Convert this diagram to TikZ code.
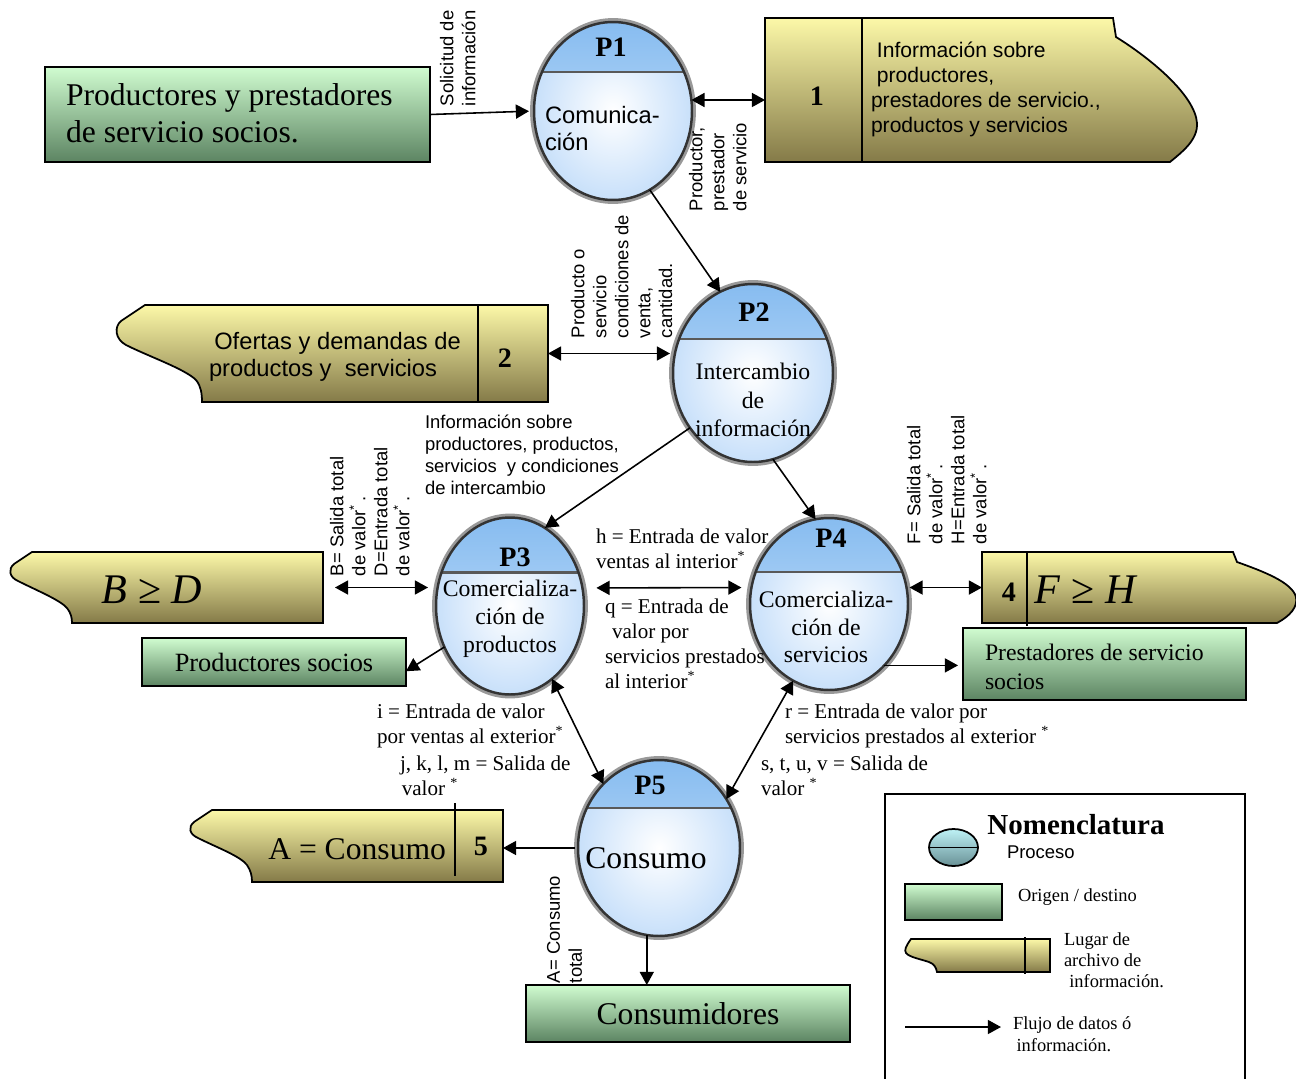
\documentclass[tikz,border=0pt]{standalone}
\usepackage{fontspec}
\setmainfont{Liberation Serif}
\newfontfamily\sansf{Liberation Sans}
\usetikzlibrary{shapes.geometric,arrows.meta,calc}

\definecolor{gtop}{RGB}{208,252,208}
\definecolor{gmid}{RGB}{165,212,168}
\definecolor{gbot}{RGB}{92,132,98}
\definecolor{ytop}{RGB}{252,248,168}
\definecolor{ymid}{RGB}{228,222,130}
\definecolor{ybot}{RGB}{132,122,72}
\definecolor{captop}{RGB}{135,188,240}
\definecolor{capbot}{RGB}{205,228,250}
\definecolor{bodyout}{RGB}{200,224,250}
\definecolor{ltop}{RGB}{190,242,246}
\definecolor{lbot}{RGB}{105,145,150}

\newcommand\fsz[2]{\fontsize{#1}{#2}\selectfont}

\begin{document}
\begin{tikzpicture}[x=0.02cm,y=-0.02cm,
  every node/.style={inner sep=0pt,outer sep=0pt},
  proc/.style={ellipse, inner color=white, outer color=bodyout,
    draw=black!80, line width=1.4pt,
    preaction={draw=black!40, line width=4.5pt},
    path picture={
      \fill[top color=captop, bottom color=capbot]
        (path picture bounding box.north west) rectangle
        ([yshift=-#1]path picture bounding box.north east);
      \draw[black!65, line width=1.3pt]
        ([yshift=-#1]path picture bounding box.north west) --
        ([yshift=-#1]path picture bounding box.north east);}},
  ptitle/.style={font=\bfseries\fsz{16}{18}},
  pbody/.style={font=\fsz{13.5}{15.8}, align=center},
  gbox/.style={draw, line width=1pt, top color=gtop, middle color=gmid, bottom color=gbot},
  store/.style={draw, line width=1pt, top color=ytop, middle color=ymid, bottom color=ybot},
  divider/.style={line width=1pt},
  num/.style={font=\bfseries\fsz{16}{18}},
  lab/.style={font=\sansf\fsz{10.5}{12.5}, align=left},
  rlab/.style={lab, rotate=90, anchor=north west},
  slab/.style={font=\fsz{12}{14.2}, align=left, anchor=north west},
  arr/.style={-{Triangle[length=7.5pt,width=8pt]}, line width=0.9pt},
  dbl/.style={{Triangle[length=7.5pt,width=8pt]}-{Triangle[length=7.5pt,width=8pt]}, line width=0.9pt}]
\useasboundingbox (0,0) rectangle (1296,1079);

% ---------- origin / destination boxes ----------
\node[gbox, minimum width=7.7cm, minimum height=1.9cm] (g1) at (237.5,114.5) {};
\node[font=\fsz{18}{21}, align=left, anchor=north west] (g1t) at (66,84)
  {Productores y prestadores\\de servicio socios.};
\node[gbox, minimum width=5.28cm, minimum height=0.96cm, font=\fsz{15}{17}] (ps) at (274,662) {Productores socios};
\node[gbox, minimum width=5.66cm, minimum height=1.44cm] (pr) at (1104.5,664) {};
\node[font=\fsz{13.5}{16.4}, align=left, anchor=north west] (prt) at (985,644)
  {Prestadores de servicio\\socios};
\node[gbox, minimum width=6.48cm, minimum height=1.14cm, font=\fsz{18}{21}] (cons) at (688,1013.5) {Consumidores};

% ---------- information stores ----------
% store 1
\path[store] (765,18) -- (1113,18) -- (1116,37)
  .. controls (1150,58) and (1195,95) .. (1197,123)
  .. controls (1198,140) and (1182,152) .. (1170,162) -- (765,162) -- cycle;
\draw[divider] (862,18) -- (862,162);
\node[minimum width=8.66cm, minimum height=2.88cm] (s1) at (981.5,90) {};
\node[num] (s1n) at (817,96) {1};
\node[font=\sansf\fsz{12}{14.2}, align=left, anchor=north west] (s1t) at (871,42)
  {\hspace{3.4pt}Información sobre\\\hspace{3.4pt}productores,\\prestadores de servicio.,\\productos y servicios};

% store 2
\path[store] (548,305) -- (145,305) -- (121,321)
  .. controls (114,327) and (115,339) .. (126,345)
  .. controls (150,357) and (185,369) .. (196,380)
  .. controls (201,386) and (202,394) .. (202,402) -- (548,402) -- cycle;
\draw[divider] (478,305) -- (478,402);
\node[minimum width=8.64cm, minimum height=1.94cm] (s2) at (332,353.5) {};
\node[num] (s2n) at (505,358) {2};
\node[font=\sansf\fsz{13.5}{15.3}, align=left, anchor=north west] (s2t) at (209,332)
  {\hspace{3pt}Ofertas y demandas de\\productos y\ \ servicios};

% store B >= D
\path[store] (323,552) -- (32,552) -- (14,564)
  .. controls (8,569) and (9,577) .. (18,581)
  .. controls (38,591) and (60,600) .. (67,608)
  .. controls (71,613) and (72,618) .. (72,623) -- (323,623) -- cycle;
\node[minimum width=6.26cm, minimum height=1.42cm] (sB) at (166.5,587.5) {};
\node[font=\fsz{24}{26}] (sBt) at (152,590) {\textit{B} ≥ \textit{D}};

% store 4
\path[store] (982,552) -- (1233,552) -- (1237,562)
  .. controls (1262,571) and (1292,582) .. (1296,597)
  .. controls (1298,607) and (1290,616) .. (1277,623) -- (982,623) -- cycle;
\draw[divider] (1027,552) -- (1027,626);
\node[minimum width=6.3cm, minimum height=1.42cm] (s4) at (1139.5,587.5) {};
\node[num] (s4n) at (1009,592) {4};
\node[font=\fsz{24}{26}] (s4t) at (1086,590) {\textit{F} ≥ \textit{H}};

% store 5
\path[store] (503,810) -- (212,810) -- (194,822)
  .. controls (188,827) and (189,834) .. (198,838)
  .. controls (218,848) and (240,856) .. (247,865)
  .. controls (251,871) and (252,876) .. (252,882) -- (503,882) -- cycle;
\draw[divider] (455,803) -- (455,876);
\node[minimum width=6.26cm, minimum height=1.44cm] (s5) at (346.5,846) {};
\node[num] (s5n) at (481,846) {5};
\node[font=\fsz{18}{20}, anchor=east] (s5t) at (446,849) {A = Consumo};

% ---------- processes ----------
\node[proc=1.0cm, minimum width=3.16cm, minimum height=3.56cm] (p1) at (613,111) {};
\node[ptitle] (p1h) at (611,47) {P1};
\node[font=\sansf\fsz{13.5}{15.3}, align=left, anchor=north west] (p1b) at (545,106) {Comunica-\\ción};

\node[proc=1.1cm, minimum width=3.2cm, minimum height=3.56cm] (p2) at (753,373) {};
\node[ptitle] (p2h) at (754,312) {P2};
\node[pbody, font=\fsz{13.5}{16.2}] (p2b) at (753,400) {Intercambio\\de\\información};

\node[proc=1.1cm, minimum width=2.96cm, minimum height=3.54cm] (p3) at (510,606) {};
\node[ptitle] (p3h) at (515,557) {P3};
\node[pbody] (p3b) at (510,619) {Comercializa-\\ción de\\productos};

\node[proc=1.08cm, minimum width=3.16cm, minimum height=3.44cm] (p4) at (829,604) {};
\node[ptitle] (p4h) at (831,538) {P4};
\node[pbody] (p4b) at (826,627) {Comercializa-\\ción de\\servicios};

\node[proc=0.96cm, minimum width=3.24cm, minimum height=3.52cm] (p5) at (659,848) {};
\node[ptitle] (p5h) at (650,785) {P5};
\node[font=\fsz{18}{20}] (p5b) at (646,858) {Consumo};

% ---------- data flows ----------
\draw[arr, shorten >=0.1cm] (g1.east) -- (p1.west);
\draw[dbl] (p1.8) -- (p1.8 -| s1.west);
\draw[arr] (p1.295) -- (p2.112);
\draw[dbl, shorten >=0.06cm] (s2.east) -- (s2.east -| p2.west);
\draw[arr] (p2.221) -- (p3.66);
\draw[arr] (p2.283) -- (p4.99);
\draw[dbl, shorten <=0.24cm, shorten >=0.16cm] (sB.east) -- (sB.east -| p3.west);
\draw[arr] (p3.212) -- (ps.-4);
\draw[dbl, shorten <=0.28cm, shorten >=0.2cm] (p3.14) -- (p4.168);
\draw[dbl, shorten <=0.06cm] (p4.12) -- (p4.12 -| s4.west);
\draw[arr, shorten >=0.1cm] (p4.312) -- (p4.312 -| pr.west);
\draw[dbl] (p3.300) -- (p5.131);
\draw[dbl] (p4.245) -- (p5.36);
\draw[arr, shorten <=0.06cm] (p5.west) -- (p5.west -| s5.east);
\draw[arr] (p5.262) -- (p5.262 |- cons.north);

% ---------- flow labels ----------
\node[rlab] (l1) at (440,106) {Solicitud de\\información};
\node[rlab] (l2) at (689,211) {Productor,\\prestador\\de servicio};
\node[rlab] (l3) at (571,338) {Producto o\\servicio\\condiciones de\\venta,\\cantidad.};
\node[lab, anchor=north west] (l4) at (425,415)
  {Información sobre\\productores, productos,\\servicios\ \ y condiciones\\de intercambio};
\node[rlab] (l5) at (330,576)
  {B= Salida total\\de valor\textsuperscript{*}\,.\\D=Entrada total\\de valor\textsuperscript{*}\,.};
\node[rlab] (l6) at (907,544)
  {F= Salida total\\de valor\textsuperscript{*}\,.\\H=Entrada total\\de valor\textsuperscript{*}\,.};
\node[slab] (l7) at (596,529) {h = Entrada de valor\\ventas al interior\textsuperscript{*}};
\node[slab] (l8) at (605,599)
  {q = Entrada de\\\hspace{4pt}valor por\\servicios prestados\\al interior\textsuperscript{*}};
\node[slab] (l9) at (377,704) {i = Entrada de valor\\por ventas al exterior\textsuperscript{*}};
\node[slab] (l10) at (400,756) {j, k, l, m = Salida de\\\hspace{1pt}valor \textsuperscript{*}};
\node[slab] (l11) at (785,704) {r = Entrada de valor por\\servicios prestados al exterior \textsuperscript{*}};
\node[slab] (l12) at (761,756) {s, t, u, v = Salida de\\valor \textsuperscript{*}};
\node[rlab] (l13) at (547,983) {A= Consumo\\total};

% ---------- legend ----------
\node[draw, line width=1pt, minimum width=7.2cm, minimum height=6.2cm, anchor=north west] (leg) at (885,794) {};
\node[font=\bfseries\fsz{16.5}{18}] (legt) at (1076,825) {Nomenclatura};
\node[ellipse, draw, line width=1pt, top color=ltop, bottom color=lbot,
  minimum width=0.98cm, minimum height=0.74cm] (lproc) at (953.5,847.5) {};
\draw[line width=1pt] (lproc.west) -- (lproc.east);
\node[font=\sansf\fsz{10.5}{12}, anchor=west] (lproct) at (1007,852) {Proceso};
\node[gbox, minimum width=1.94cm, minimum height=0.72cm] (lorig) at (953.5,902) {};
\node[font=\fsz{10.5}{12}, anchor=west] (lorigt) at (1018,897) {Origen / destino};
\path[store] (911,939) -- (1050,939) -- (1050,972) -- (937,972)
  .. controls (936,967) and (934,964) .. (929,962)
  .. controls (920,959) and (909,957) .. (906,953)
  .. controls (904,950) and (906,946) .. (911,939) -- cycle;
\draw[divider] (1025,937) -- (1025,974);
\node[font=\fsz{10.5}{11.8}, align=left, anchor=north west] (lstoret) at (1064,933)
  {Lugar de\\archivo de\\\hspace{3pt}información.};
\coordinate (la1) at (905,1027);
\coordinate (la2) at (1001,1027);
\draw[arr] (la1) -- (la2);
\node[font=\fsz{10.5}{12.2}, align=left, anchor=north west] (larrt) at (1013,1017)
  {Flujo de datos ó\\\hspace{2pt}información.};
\end{tikzpicture}
\end{document}
